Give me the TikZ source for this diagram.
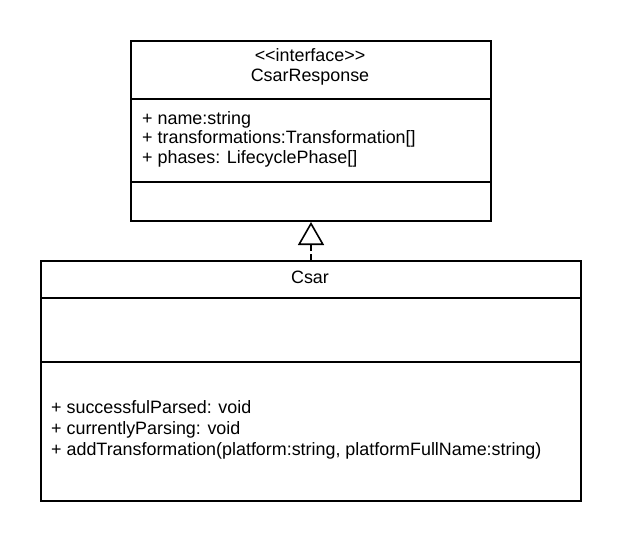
\documentclass[tikz,border=0pt]{standalone}
\usepackage{fontspec}
\newfontfamily\umlfont{Liberation Sans}
\usetikzlibrary{arrows.meta}
\begin{document}
\begin{tikzpicture}[x=1pt,y=-1pt,
  umlbox/.style={draw=black, line width=2pt, rectangle, inner sep=0pt, anchor=north west},
  divider/.style={draw=black, line width=2pt},
  umltext/.style={inner sep=0pt, font=\umlfont\fontsize{17.9}{20}\selectfont, text=black},
  realize/.style={line width=1.6pt, dash pattern=on 6pt off 3pt,
    -{Triangle[open, length=23pt, width=26pt, line width=1.6pt]}}
]
\useasboundingbox (0,0) rectangle (620,540);
% interface box
\node[umlbox, minimum width=360pt, minimum height=180pt] (resp) at (130,40) {};
\draw[divider] (resp.west |- 0,99) -- (resp.east |- 0,99);
\draw[divider] (resp.west |- 0,182) -- (resp.east |- 0,182);
\node[umltext, anchor=base] (iface) at (310,62) {<{}<interface>{}>};
\node[umltext, anchor=base] (rname) at (310,82) {CsarResponse};
\node[umltext, anchor=base west] (a1) at (142,124.5) {+ name:string};
\node[umltext, anchor=base west] (a2) at (142,144) {+ transformations:Transformation[]};
\node[umltext, anchor=base west] (a3) at (142,163.5) {+ phases: LifecyclePhase[]};
% class box
\node[umlbox, minimum width=540pt, minimum height=240pt] (csar) at (40,260) {};
\draw[divider] (csar.west |- 0,298) -- (csar.east |- 0,298);
\draw[divider] (csar.west |- 0,362) -- (csar.east |- 0,362);
\node[umltext, anchor=base] (cname) at (310,283) {Csar};
\node[umltext, anchor=base west] (m1) at (51,413.5) {+ successfulParsed: void};
\node[umltext, anchor=base west] (m2) at (51,434.5) {+ currentlyParsing: void};
\node[umltext, anchor=base west] (m3) at (51,455.5) {+ addTransformation(platform:string, platformFullName:string)};
% realization
\draw[realize] (csar.north) -- (resp.south);
\end{tikzpicture}
\end{document}
